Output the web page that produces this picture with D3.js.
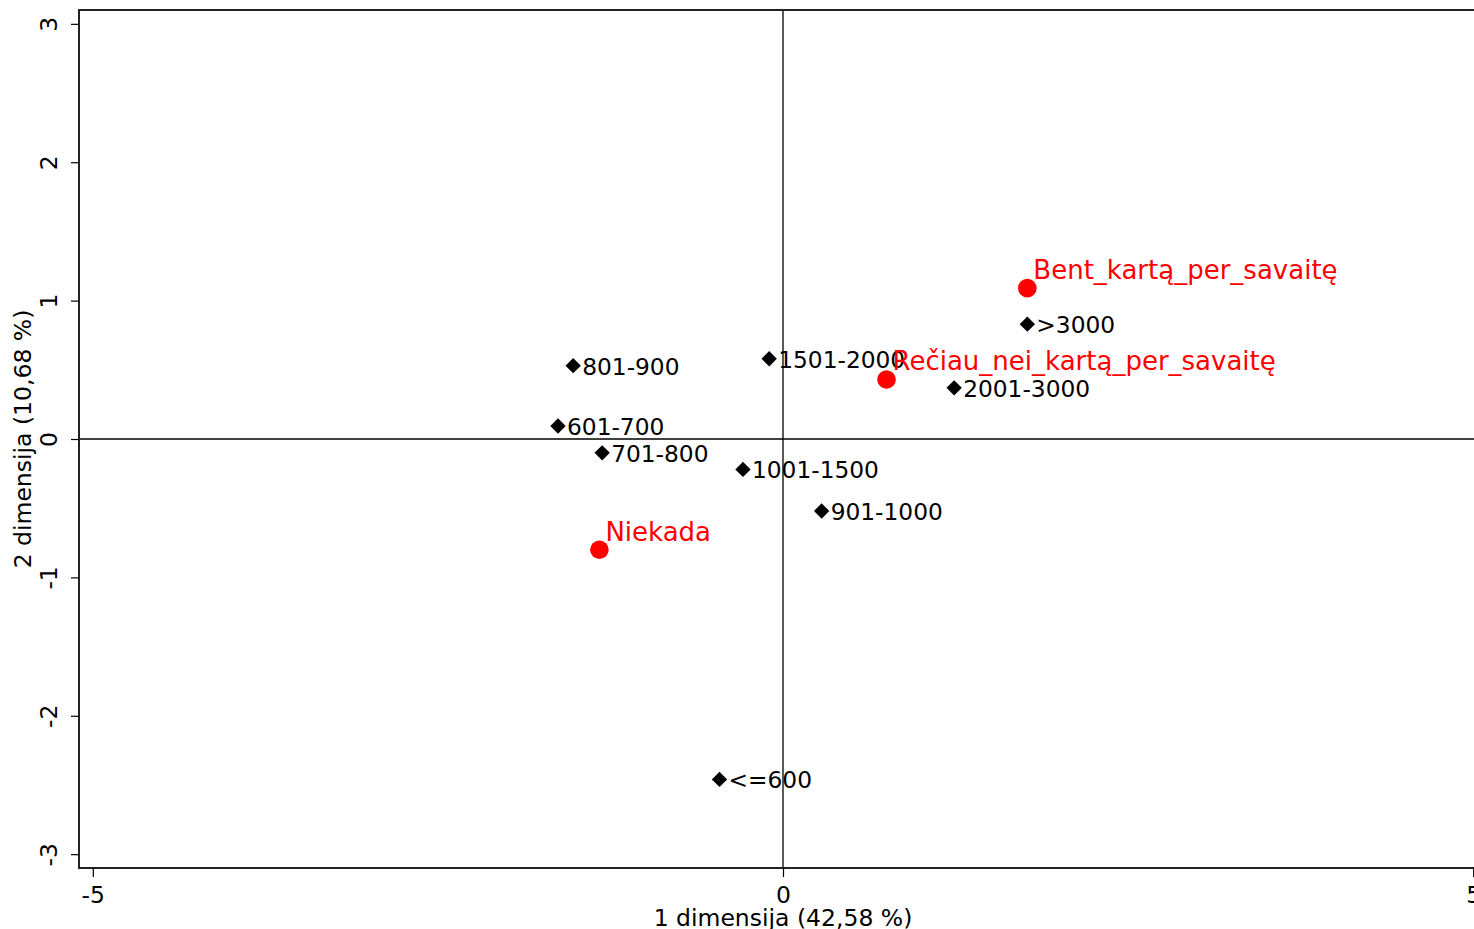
<!DOCTYPE html>
<html>
<head>
<meta charset="utf-8">
<script src="https://cdn.jsdelivr.net/npm/d3@7"></script>
<style>
  html, body { margin: 0; padding: 0; background: #fff; }
  svg { display: block; }
  text { font-family: "DejaVu Sans", sans-serif; }
</style>
</head>
<body>
<svg id="chart" width="1474" height="929"></svg>
<script>
// Row categories (income groups) – black diamonds
const incomeLabels = ["801-900", "601-700", "701-800", "1501-2000", "1001-1500", "901-1000", "<=600", ">3000", "2001-3000"];
const incomeDim1 = [-1.52, -1.63, -1.31, -0.10, -0.29, 0.28, -0.46, 1.77, 1.24];
const incomeDim2 = [0.53, 0.094, -0.10, 0.58, -0.22, -0.52, -2.46, 0.83, 0.37];

// Column categories (frequency) – red circles
const freqLabels = ["Bent_kartą_per_savaitę", "Rečiau_nei_kartą_per_savaitę", "Niekada"];
const freqDim1 = [1.77, 0.75, -1.33];
const freqDim2 = [1.09, 0.43, -0.80];

// Axes
const xTicks = [-5, 0, 5];
const yTicks = [-3, -2, -1, 0, 1, 2, 3];
const xTitle = "1 dimensija (42,58 %)";
const yTitle = "2 dimensija (10,68 %)";

const svg = d3.select("#chart");
const pLeft = 79, pTop = 10, pBottom = 868, pRight = 1487;

const x = d3.scaleLinear().domain([-5.1, 5.1]).range([pLeft, pRight]);
const y = d3.scaleLinear().domain([-3.1, 3.1]).range([pBottom, pTop]);

// zero lines
svg.append("line")
  .attr("x1", x(0)).attr("x2", x(0)).attr("y1", pTop).attr("y2", pBottom)
  .attr("stroke", "#000").attr("stroke-width", 1.3);
svg.append("line")
  .attr("x1", pLeft).attr("x2", pRight).attr("y1", y(0)).attr("y2", y(0))
  .attr("stroke", "#000").attr("stroke-width", 1.3);

// frame
svg.append("rect")
  .attr("x", pLeft).attr("y", pTop).attr("width", pRight - pLeft).attr("height", pBottom - pTop)
  .attr("fill", "none").attr("stroke", "#222").attr("stroke-width", 2);

const fmt = d => d < 0 ? "-" + Math.abs(d) : String(d);

// x axis
const xAxis = svg.append("g")
  .attr("transform", `translate(0,${pBottom})`)
  .call(d3.axisBottom(x).tickValues(xTicks).tickSize(9).tickPadding(9).tickFormat(fmt));
xAxis.select(".domain").remove();
xAxis.selectAll(".tick line").attr("stroke", "#000").attr("stroke-width", 1.2);
xAxis.selectAll(".tick text").attr("font-size", 23.5).attr("fill", "#000")
  .attr("font-family", "DejaVu Sans");

// y axis
const yAxis = svg.append("g")
  .attr("transform", `translate(${pLeft},0)`)
  .call(d3.axisLeft(y).tickValues(yTicks).tickSize(8).tickFormat(fmt));
yAxis.select(".domain").remove();
yAxis.selectAll(".tick line").attr("stroke", "#000").attr("stroke-width", 1.2);
yAxis.selectAll(".tick text")
  .attr("font-size", 23.5).attr("fill", "#000").attr("font-family", "DejaVu Sans")
  .attr("x", null).attr("dy", null)
  .attr("text-anchor", "middle")
  .attr("transform", "translate(-22,0) rotate(-90)");

// axis titles
svg.append("text")
  .attr("x", x(0)).attr("y", 926)
  .attr("text-anchor", "middle").attr("font-size", 23.5).attr("fill", "#000")
  .text(xTitle);
svg.append("text")
  .attr("transform", `translate(31,${y(0)}) rotate(-90)`)
  .attr("text-anchor", "middle").attr("font-size", 23.5).attr("fill", "#000")
  .text(yTitle);

// income points
const income = incomeLabels.map((l, i) => ({ label: l, d1: incomeDim1[i], d2: incomeDim2[i] }));
const diamond = d3.symbol().type(d3.symbolDiamond2).size(150);
svg.append("g").selectAll("path").data(income).join("path")
  .attr("d", diamond)
  .attr("transform", d => `translate(${x(d.d1)},${y(d.d2)})`)
  .attr("fill", "#000");
svg.append("g").selectAll("text").data(income).join("text")
  .attr("x", d => x(d.d1) + 9)
  .attr("y", d => y(d.d2) + 9)
  .attr("font-size", 23.3).attr("fill", "#000")
  .text(d => d.label);

// frequency points
const freq = freqLabels.map((l, i) => ({ label: l, d1: freqDim1[i], d2: freqDim2[i] }));
svg.append("g").selectAll("circle").data(freq).join("circle")
  .attr("cx", d => x(d.d1)).attr("cy", d => y(d.d2)).attr("r", 9.3)
  .attr("fill", "#ff0000");
svg.append("g").selectAll("text").data(freq).join("text")
  .attr("x", d => x(d.d1) + 6)
  .attr("y", d => y(d.d2) - 9)
  .attr("font-size", 26).attr("fill", "#ff0000")
  .text(d => d.label);
</script>
</body>
</html>
